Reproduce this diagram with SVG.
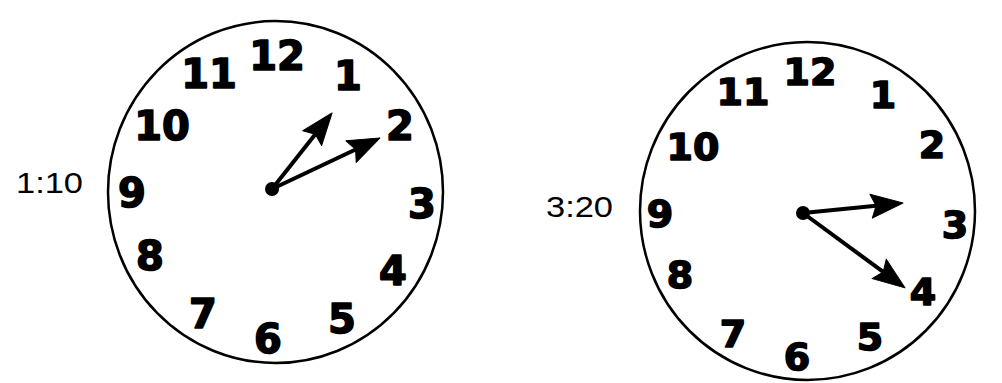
<svg xmlns="http://www.w3.org/2000/svg" width="1002" height="383" viewBox="0 0 1002 383">
<style>
.face{fill:#fff;stroke:#000;stroke-width:2.5}
.num{font-family:"DejaVu Sans",sans-serif;font-weight:bold;font-size:40px;fill:#000;stroke:#000;stroke-width:1.6;stroke-linejoin:round;text-anchor:middle}
.num2{font-size:38px}
.lbl{font-family:"Liberation Sans",Arial,sans-serif;font-size:30px;fill:#000}
.hand{stroke:#000;stroke-width:4;fill:none;marker-end:url(#ah)}
</style>
<defs>
<marker id="ah" markerUnits="userSpaceOnUse" markerWidth="34" markerHeight="26" refX="5" refY="13" orient="auto" overflow="visible">
<path d="M0,1 L32,13 L0,25 L5,13 Z" fill="#000" stroke="#000" stroke-width="1" stroke-linejoin="round"/>
</marker>
</defs>
<rect width="1002" height="383" fill="#fff"/>
<g id="clock1">
<ellipse class="face" cx="275.5" cy="192" rx="167.5" ry="171"/>
<text class="num" x="277" y="70">12</text>
<text class="num" x="209" y="88">11</text>
<text class="num" x="348" y="90">1</text>
<text class="num" x="162" y="140">10</text>
<text class="num" x="400" y="140">2</text>
<text class="num" x="132" y="207">9</text>
<text class="num" x="422" y="218">3</text>
<text class="num" x="150" y="270">8</text>
<text class="num" x="393" y="285">4</text>
<text class="num" x="203" y="328">7</text>
<text class="num" x="342" y="333">5</text>
<text class="num" x="268" y="353">6</text>
<circle cx="272" cy="189" r="7" fill="#000"/>
</g>
<g id="label1">
<text class="lbl" x="16" y="193" textLength="67" lengthAdjust="spacingAndGlyphs">1:10</text>
</g>
<g id="clock2">
<ellipse class="face" cx="807.5" cy="211" rx="167.5" ry="169"/>
<text class="num num2" x="810" y="85">12</text>
<text class="num num2" x="743" y="105">11</text>
<text class="num num2" x="883" y="108">1</text>
<text class="num num2" x="693" y="160">10</text>
<text class="num num2" x="932" y="158">2</text>
<text class="num num2" x="660" y="227">9</text>
<text class="num num2" x="955" y="238">3</text>
<text class="num num2" x="680" y="288">8</text>
<text class="num num2" x="923" y="305">4</text>
<text class="num num2" x="733" y="347">7</text>
<text class="num num2" x="870" y="350">5</text>
<text class="num num2" x="797" y="370">6</text>
<circle cx="803" cy="213" r="7" fill="#000"/>
</g>
<g id="label2">
<text class="lbl" x="546" y="217" textLength="67" lengthAdjust="spacingAndGlyphs">3:20</text>
</g>
<g id="connectors">
<line class="hand" x1="272" y1="189" x2="315.3" y2="134.2"/>
<line class="hand" x1="272" y1="189" x2="355.6" y2="149.5"/>
<line class="hand" x1="803" y1="213" x2="876.1" y2="205.7"/>
<line class="hand" x1="803" y1="213" x2="883.2" y2="271.9"/>
</g>
</svg>
